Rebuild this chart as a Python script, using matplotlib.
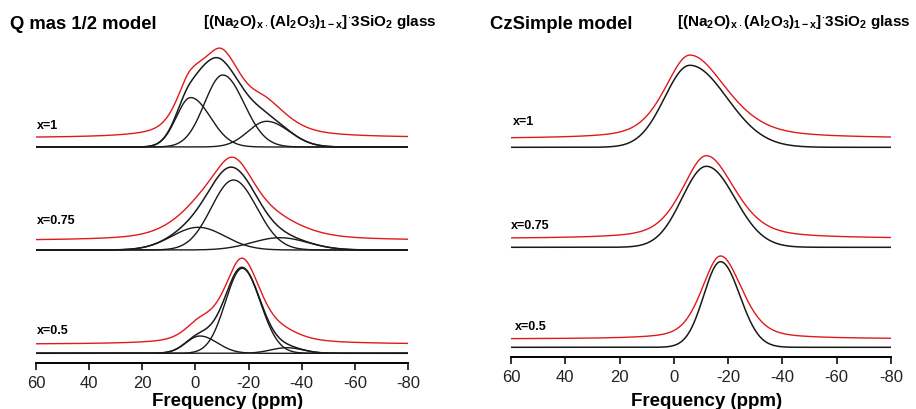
import numpy as np
import matplotlib
matplotlib.use('Agg')
import matplotlib.pyplot as plt

plt.rcParams['font.family'] = ['Liberation Sans', 'DejaVu Sans']
plt.rcParams['mathtext.fontset'] = 'custom'
plt.rcParams['mathtext.rm'] = 'Liberation Sans:bold'
plt.rcParams['mathtext.it'] = 'Liberation Sans:bold'
plt.rcParams['mathtext.bf'] = 'Liberation Sans:bold'
plt.rcParams['mathtext.default'] = 'rm'

# ---------------- data ----------------
ppm_ticks = [60, 40, 20, 0, -20, -40, -60, -80]
compositions = ['x=1', 'x=0.75', 'x=0.5']

# Q mas 1/2 model components: (centre ppm, height, sigma_left, sigma_right)
qmas_x1 = [(1.8, 0.494, 5.4, 7.4), (-10.3, 0.72, 6.9, 8.0), (-26.8, 0.257, 7.0, 8.5)]
qmas_x075 = [(-1.1, 0.227, 10.0, 10.0), (-14.3, 0.70, 8.3, 8.8), (-31.8, 0.123, 10.5, 10.5)]
qmas_x05 = [(-1.7, 0.173, 5.3, 6.5), (-17.6, 0.85, 6.3, 6.8), (-34.4, 0.056, 6.0, 6.0)]
qmas_baselines = [2.16, 1.13, 0.097]
qmas_red_offset = [0.09, 0.093, 0.09]
qmas_red_eta = [0.55, 0.5, 0.5]
qmas_red_scale = [0.98, 1.0, 0.98]
qmas_red_width = [1.0, 1.0, 1.05]

# CzSimple model: one asymmetric line per composition
czs_x1 = [(-5.9, 0.82, 9.3, 13.6)]
czs_x075 = [(-12.0, 0.81, 9.0, 10.5)]
czs_x05 = [(-17.2, 0.856, 6.2, 7.1)]
czs_baselines = [2.097, 1.097, 0.097]
czs_red_offset = [0.086, 0.086, 0.083]
czs_red_eta = [0.45, 0.45, 0.4]
czs_red_scale = [1.02, 1.025, 0.97]
czs_red_width = [1.0, 1.0, 1.12]

W, H = 916, 409
fig = plt.figure(figsize=(W / 100, H / 100), dpi=100)

def px_axes(x0, x1, ybot, ytop):
    return fig.add_axes([x0 / W, 1 - ybot / H, (x1 - x0) / W, (ybot - ytop) / H])

ax_l = px_axes(36, 408, 363, 43)
ax_r = px_axes(511, 891, 357, 37)

ppm = np.linspace(60, -80, 1401)

def pvoigt(c, h, sl, sr, eta):
    s = np.where(ppm > c, sl, sr)
    g = np.exp(-0.5 * ((ppm - c) / s) ** 2)
    hw = s * np.sqrt(2 * np.log(2))
    lo = 1.0 / (1.0 + ((ppm - c) / hw) ** 2)
    return h * ((1 - eta) * g + eta * lo)

def draw(ax, sets, baselines, red_off, red_eta, red_scale, red_width, show_comp):
    for i, comps in enumerate(sets):
        base = baselines[i]
        total = np.zeros_like(ppm)
        red = np.zeros_like(ppm)
        for (c, h, sl, sr) in comps:
            g = pvoigt(c, h, sl, sr, 0.0)
            total += g
            red += pvoigt(c, h * red_scale[i], sl * red_width[i], sr * red_width[i], red_eta[i])
            if show_comp:
                ax.plot(ppm, base + g, color='#1a1a1a', lw=1.0)
        ax.plot(ppm, base + total, color='#1a1a1a', lw=1.1)
        ax.plot(ppm, base + red_off[i] + red, color='#e0191b', lw=1.0)

draw(ax_l, [qmas_x1, qmas_x075, qmas_x05], qmas_baselines,
     qmas_red_offset, qmas_red_eta, qmas_red_scale, qmas_red_width, True)
draw(ax_r, [czs_x1, czs_x075, czs_x05], czs_baselines,
     czs_red_offset, czs_red_eta, czs_red_scale, czs_red_width, False)

for ax in (ax_l, ax_r):
    ax.set_xlim(60, -80)
    ax.set_ylim(0, 3.2)
    for s in ('top', 'right', 'left'):
        ax.spines[s].set_visible(False)
    ax.spines['bottom'].set_linewidth(1.4)
    ax.set_yticks([])
    ax.set_xticks(ppm_ticks)
    ax.set_xticklabels([str(t) for t in ppm_ticks])
    ax.tick_params(axis='x', direction='out', length=5, width=1.3, labelsize=12,
                   pad=4, colors='#222222')
    ax.patch.set_alpha(0)

def ftxt(x, y, s, **kw):
    fig.text(x / W, 1 - y / H, s, **kw)

# composition labels
for lab, y in zip(compositions, [126, 221, 331]):
    ftxt(37, y, lab, fontsize=9, fontweight='bold', va='center', ha='left')
for lab, y, x in zip(compositions, [122, 226, 327], [513, 511, 515]):
    ftxt(x, y, lab, fontsize=9, fontweight='bold', va='center', ha='left')

formula = r'[(Na$_2$O)$_{x\cdot}$(Al$_2$O$_3$)$_{1-x}$]$^{\cdot}$3SiO$_2$ glass'
ftxt(10, 29, 'Q mas 1/2 model', fontsize=13.3, fontweight='bold', va='baseline')
ftxt(203, 26, formula, fontsize=11, fontweight='bold', va='baseline')
ftxt(490, 29, 'CzSimple model', fontsize=13.3, fontweight='bold', va='baseline')
ftxt(677, 26, formula, fontsize=11, fontweight='bold', va='baseline')

ftxt(228, 402, 'Frequency (ppm)', fontsize=13.5, fontweight='bold', ha='center', va='center')
ftxt(707, 402, 'Frequency (ppm)', fontsize=13.5, fontweight='bold', ha='center', va='center')

fig.savefig('out.png', dpi=100)
